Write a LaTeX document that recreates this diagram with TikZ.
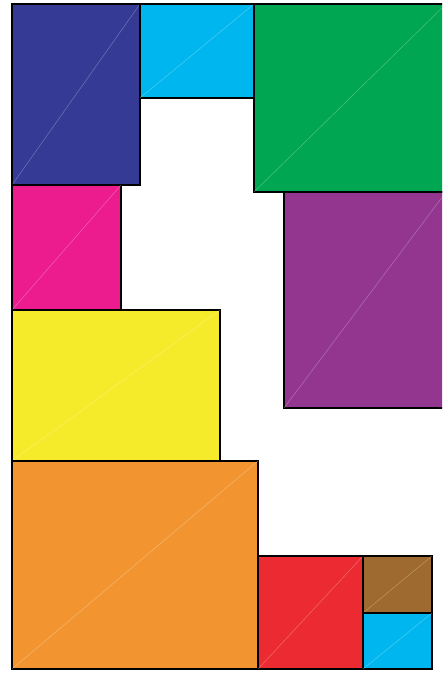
\documentclass[tikz,border=0pt]{standalone}
\usepackage{tikz}
\usepackage{xcolor}
\definecolor{tileblue}{HTML}{353A94}
\definecolor{tilecyan}{HTML}{00B6EF}
\definecolor{tilegreen}{HTML}{00A651}
\definecolor{tilepink}{HTML}{EC1C8E}
\definecolor{tilepurple}{HTML}{92368F}
\definecolor{tileyellow}{HTML}{F6EB2A}
\definecolor{tileorange}{HTML}{F29531}
\definecolor{tilered}{HTML}{EB2A31}
\definecolor{tilebrown}{HTML}{9E6A2F}
% one square-ish tile: fill, frame, faint diagonal
\newcommand{\tile}[5]{%
  \draw[tilebox, fill=#1] (#2,#3) rectangle (#4,#5);
  \draw[diag] (#2,#5) -- (#4,#3);}

\begin{document}
\begin{tikzpicture}[
  x=1pt, y=-1pt,
  tilebox/.style={draw=black, line width=1.1pt},
  diag/.style={draw=white, opacity=0.3, line width=0.5pt}
]
  \useasboundingbox (0,0) rectangle (442,677);
  \begin{scope}
  \clip (0,0) rectangle (442,677);
  % --- left column ---
  \tile{tileblue}{12}{4}{140}{185}
  \tile{tilepink}{12}{185}{121}{310}
  \tile{tileyellow}{12}{310}{220}{461}
  \tile{tileorange}{12}{461}{258}{669}
  % --- top row ---
  \tile{tilecyan}{140}{4}{254}{98}
  \tile{tilegreen}{254}{4}{446}{192}
  \tile{tilepurple}{284}{192}{446}{408}
  % --- bottom right ---
  \tile{tilered}{258}{556}{363}{669}
  \tile{tilebrown}{363}{556}{432}{613}
  \tile{tilecyan}{363}{613}{432}{669}
  \end{scope}
\end{tikzpicture}
\end{document}
